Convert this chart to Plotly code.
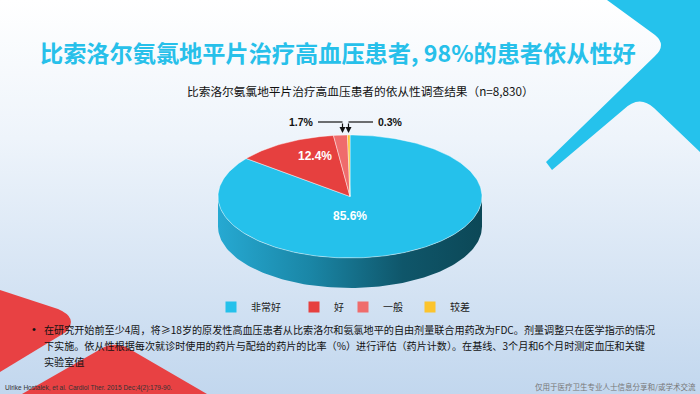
import numpy as np
import plotly.graph_objects as go

# ---------------- data ----------------
categories = ["非常好", "好", "一般", "较差"]
values = [85.6, 12.4, 1.7, 0.3]
colors = ["#25c1eb", "#e6403f", "#ef6c6c", "#fcc42d"]
value_labels = ["85.6%", "12.4%", "1.7%", "0.3%"]

title_text = "比索洛尔氨氯地平片治疗高血压患者, 98%的患者依从性好"
subtitle_text = "比索洛尔氨氯地平片治疗高血压患者的依从性调查结果（n=8,830）"
bullet_lines = [
    "在研究开始前至少4周，将≥18岁的原发性高血压患者从比索洛尔和氨氯地平的自由剂量联合用药改为FDC。剂量调整只在医学指示的情况",
    "下实施。依从性根据每次就诊时使用的药片与配给的药片的比率（%）进行评估（药片计数）。在基线、3个月和6个月时测定血压和关键",
    "实验室值",
]
citation = "Ulrike Hostalek, et al. Cardiol Ther. 2015 Dec;4(2):179-90."
disclaimer = "仅用于医疗卫生专业人士信息分享和/或学术交流"

FONT = "Liberation Sans, Arial, Noto Sans CJK SC, sans-serif"
CJK = "Noto Sans CJK SC, Liberation Sans, sans-serif"

W, H = 700, 394
fig = go.Figure()

# background gradient
fig.add_trace(go.Scatter(
    x=[0, W, W, 0, 0], y=[0, 0, H, H, 0], mode="lines", line=dict(width=0),
    fill="toself",
    fillgradient=dict(type="vertical", start=0, stop=H,
                      colorscale=[[0, "#ffffff"], [0.35, "#eef4fb"], [1, "#c2d7ee"]]),
    hoverinfo="skip", showlegend=False))

# ---------------- 3D elliptical pie ----------------
cx, cy, rx, ry, depth = 350, 196.5, 132, 61.5, 30
total = sum(values)
cum = np.concatenate([[0], np.cumsum(values)])
t_start = 90 - 360 * cum[:-1] / total
t_end = 90 - 360 * cum[1:] / total


def arc(t0, t1, n=120, dy=0.0):
    t = np.radians(np.linspace(t0, t1, n))
    return cx + rx * np.cos(t), cy - ry * np.sin(t) + dy


# side walls (front half: math angle in [-180, 0])
for i in range(len(values)):
    a0, a1 = t_end[i], t_start[i]
    for off in (-360, 0, 360):
        lo, hi = max(a0, -180 + off), min(a1, 0 + off)
        if hi > lo:
            xt, yt = arc(lo, hi)
            xb, yb = arc(hi, lo, dy=depth)
            fill_kw = dict(fillcolor=colors[i])
            if i == 0:
                fill_kw = dict(fillgradient=dict(
                    type="horizontal",
                    colorscale=[[0, "#26a9d2"], [0.35, "#1a86a6"],
                                [0.7, "#0f566a"], [1, "#0c4857"]]))
            fig.add_trace(go.Scatter(
                x=np.concatenate([xt, xb, xt[:1]]), y=np.concatenate([yt, yb, yt[:1]]),
                mode="lines", line=dict(width=0), fill="toself", hoverinfo="skip",
                showlegend=False, **fill_kw))

# top faces
for i in range(len(values)):
    xa, ya = arc(t_start[i], t_end[i], n=max(4, int(values[i] * 3)))
    fig.add_trace(go.Scatter(
        x=np.concatenate([[cx], xa, [cx]]), y=np.concatenate([[cy], ya, [cy]]),
        mode="lines", line=dict(width=0.8, color="rgba(255,255,255,0.55)"),
        fill="toself", fillcolor=colors[i], hoverinfo="skip", showlegend=False))

# legend entries, each in its own legend box
legend_x = [224, 307, 356, 423]
for i, c in enumerate(categories):
    key = "legend" if i == 0 else f"legend{i+1}"
    fig.add_trace(go.Scatter(
        x=[None], y=[None], mode="markers", name=c, legend=key,
        marker=dict(symbol="square", size=11, color=colors[i])))

layout_legends = {}
for i in range(len(categories)):
    key = "legend" if i == 0 else f"legend{i+1}"
    layout_legends[key] = dict(
        x=(legend_x[i] - 13) / W, y=1 - 307 / H, xanchor="left", yanchor="middle",
        orientation="h", bgcolor="rgba(0,0,0,0)", font=dict(size=10, family=CJK, color="#222"),
        itemwidth=30)

# ---------------- decorations ----------------
shapes = [
    dict(type="path", xref="x", yref="y", layer="above", line=dict(width=0), fillcolor="#25c2ec",
         path="M 607,0 L 700,0 L 700,152 L 654,108 Q 639,94 623,110 L 552,170 L 546,162 "
              "L 655,56 Q 667,45 655,35 Z"),
    dict(type="path", xref="x", yref="y", layer="above", line=dict(width=0), fillcolor="#e84143",
         path="M 0,290 L 58,309 Q 79,318 66,332 L 0,372 Z"),
    dict(type="path", xref="x", yref="y", layer="above", line=dict(width=0), fillcolor="#e84143",
         path="M 22,394 L 99,350 Q 115,339 133,351 L 207,394 Z"),
    # leader lines for small slices
    dict(type="line", xref="x", yref="y", x0=318, y0=122, x1=342.5, y1=122,
         line=dict(color="#111", width=1.2)),
    dict(type="line", xref="x", yref="y", x0=373, y0=122, x1=348.5, y1=122,
         line=dict(color="#111", width=1.2)),
]

annotations = [
    dict(x=338, y=52, text=f"<b>{title_text}</b>", showarrow=False,
         font=dict(size=23.2, color="#27c0ea", family=CJK)),
    dict(x=360, y=90, text=subtitle_text, showarrow=False,
         font=dict(size=11.7, color="#111", family=CJK)),
    dict(x=350, y=216, text=f"<b>{value_labels[0]}</b>", showarrow=False,
         font=dict(size=12, color="white", family=FONT)),
    dict(x=315, y=156, text=f"<b>{value_labels[1]}</b>", showarrow=False,
         font=dict(size=12, color="white", family=FONT)),
    dict(x=301, y=122, text=f"<b>{value_labels[2]}</b>", showarrow=False,
         font=dict(size=10.5, color="#111", family=FONT)),
    dict(x=390, y=122, text=f"<b>{value_labels[3]}</b>", showarrow=False,
         font=dict(size=10.5, color="#111", family=FONT)),
    dict(x=342.5, y=133, ax=342.5, ay=122, axref="x", ayref="y", text="", showarrow=True,
         arrowhead=2, arrowsize=1, arrowwidth=1.2, arrowcolor="#111"),
    dict(x=348.5, y=133, ax=348.5, ay=122, axref="x", ayref="y", text="", showarrow=True,
         arrowhead=2, arrowsize=1, arrowwidth=1.2, arrowcolor="#111"),
    dict(x=34, y=329, text="•", showarrow=False, xanchor="center",
         font=dict(size=11, color="#111", family=FONT)),
    dict(x=3, y=388, text=citation, showarrow=False, xanchor="left",
         font=dict(size=6.5, color="#333", family=FONT)),
    dict(x=698, y=386, text=disclaimer, showarrow=False, xanchor="right",
         font=dict(size=7.5, color="#777", family=CJK)),
]
for k, line in enumerate(bullet_lines):
    annotations.append(dict(x=42, y=329 + 16 * k, text=line, showarrow=False, xanchor="left",
                            font=dict(size=10.1, color="#111", family=CJK)))

fig.update_layout(
    width=W, height=H, margin=dict(l=0, r=0, t=0, b=0),
    paper_bgcolor="white", plot_bgcolor="white",
    xaxis=dict(range=[0, W], visible=False, fixedrange=True),
    yaxis=dict(range=[H, 0], visible=False, fixedrange=True),
    shapes=shapes, annotations=annotations, **layout_legends,
)

fig.write_html("out.html", config={"displayModeBar": False},
               post_script="document.body.style.margin='0';document.body.style.overflow='hidden';")
